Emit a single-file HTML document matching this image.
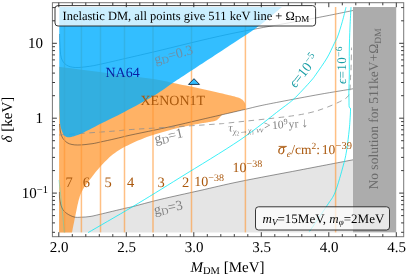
<!DOCTYPE html>
<html><head><meta charset="utf-8"><title>plot</title>
<style>html,body{margin:0;padding:0;background:#fff;}body{width:407px;height:277px;overflow:hidden;font-family:"Liberation Serif",serif;}</style></head>
<body>
<svg width="407" height="277" viewBox="0 0 407 277" style="display:block;will-change:transform;text-rendering:geometricPrecision" font-family="'Liberation Serif', serif">
<rect width="407" height="277" fill="#fff"/>
<path d="M59.1,199.0 L59.3,199.7 L59.6,200.7 L59.9,201.9 L60.3,203.2 L60.7,204.5 L61.1,205.8 L61.5,207.0 L62.0,208.0 L62.5,208.9 L63.0,209.6 L63.5,210.4 L64.1,211.0 L64.7,211.7 L65.3,212.3 L66.0,212.8 L66.7,213.4 L67.5,214.0 L68.4,214.5 L69.3,215.0 L70.3,215.5 L71.3,216.0 L72.3,216.4 L73.3,216.7 L74.2,217.0 L75.1,217.2 L75.9,217.3 L76.7,217.4 L77.5,217.4 L78.3,217.3 L79.2,217.3 L80.0,217.2 L81.0,217.2 L82.0,217.2 L83.1,217.1 L84.2,217.1 L85.3,217.0 L86.5,216.9 L87.6,216.8 L88.8,216.7 L90.0,216.5 L91.1,216.3 L92.1,216.1 L93.0,216.0 L94.0,215.7 L95.1,215.5 L96.4,215.2 L98.0,214.8 L100.0,214.3 L102.5,213.7 L105.6,213.0 L109.0,212.1 L112.6,211.3 L116.2,210.4 L119.6,209.6 L122.6,208.9 L125.0,208.3 L126.7,207.9 L127.7,207.7 L128.3,207.6 L128.8,207.5 L129.2,207.4 L129.9,207.3 L131.0,207.0 L132.8,206.6 L135.2,206.0 L137.9,205.2 L141.0,204.4 L144.4,203.5 L148.0,202.5 L151.8,201.5 L155.9,200.5 L160.0,199.5 L164.4,198.5 L169.1,197.4 L174.1,196.3 L179.2,195.1 L184.4,194.0 L189.7,192.8 L194.9,191.6 L200.0,190.5 L204.9,189.4 L209.5,188.3 L214.1,187.2 L218.8,186.2 L223.5,185.1 L228.6,183.9 L234.0,182.7 L240.0,181.5 L246.6,180.2 L253.8,178.8 L261.3,177.3 L269.2,175.8 L277.1,174.3 L285.0,172.8 L292.7,171.4 L300.0,170.0 L307.3,168.6 L315.0,167.1 L322.7,165.6 L330.2,164.2 L337.3,162.8 L343.6,161.6 L349.0,160.6 L353.0,159.8 L353.0,232.4 L59.1,232.4Z" fill="#e5e5e5"/>
<rect x="353" y="7" width="43.2" height="225.4" fill="#acacac"/>
<path d="M59.1,66.8 L62.2,67.2 L66.1,67.7 L70.8,68.3 L76.1,69.0 L81.8,69.7 L87.8,70.5 L93.9,71.3 L100.0,72.1 L106.5,72.9 L113.6,73.8 L121.2,74.8 L128.9,75.8 L136.5,76.8 L143.5,77.7 L149.8,78.6 L155.0,79.3 L159.0,79.9 L161.9,80.4 L164.1,80.9 L165.8,81.3 L167.2,81.6 L168.7,82.0 L170.6,82.5 L173.0,83.0 L176.0,83.6 L179.2,84.2 L182.6,84.9 L186.1,85.6 L189.6,86.3 L193.2,87.1 L196.7,87.8 L200.0,88.5 L203.3,89.2 L206.7,90.0 L210.1,90.7 L213.4,91.5 L216.7,92.3 L219.7,93.0 L222.5,93.6 L225.0,94.2 L227.2,94.7 L229.1,95.2 L230.8,95.6 L232.2,95.9 L233.6,96.2 L234.8,96.6 L235.9,96.9 L237.0,97.2 L238.0,97.5 L238.8,97.8 L239.5,98.1 L240.1,98.4 L240.6,98.6 L241.1,98.9 L241.5,99.2 L242.0,99.5 L242.5,99.8 L242.9,100.2 L243.2,100.6 L243.6,101.0 L243.9,101.4 L244.1,101.8 L244.4,102.1 L244.6,102.5 L244.8,102.9 L244.9,103.2 L245.1,103.6 L245.2,103.9 L245.2,104.3 L245.3,104.6 L245.4,104.8 L245.4,105.0 L245.4,109.3 L230.0,112.9 L222.0,114.8 L222.0,114.8 L221.8,115.1 L221.5,115.4 L221.1,115.9 L220.7,116.3 L220.3,116.8 L219.9,117.3 L219.4,117.8 L219.0,118.2 L218.6,118.6 L218.2,118.9 L217.9,119.3 L217.5,119.6 L217.1,119.9 L216.6,120.2 L216.0,120.5 L215.4,120.8 L214.7,121.0 L213.8,121.3 L212.9,121.5 L212.0,121.6 L211.0,121.8 L210.0,122.0 L209.0,122.1 L208.0,122.3 L207.1,122.5 L206.3,122.6 L205.6,122.7 L204.8,122.8 L203.9,122.9 L202.9,123.1 L201.6,123.3 L200.0,123.6 L198.1,123.9 L196.0,124.3 L193.7,124.8 L191.2,125.2 L188.5,125.7 L185.8,126.3 L182.9,126.9 L180.0,127.6 L176.9,128.3 L173.6,129.1 L170.2,130.0 L166.7,130.9 L163.1,131.9 L159.6,132.9 L156.2,133.9 L153.0,134.9 L149.9,136.0 L146.8,137.1 L143.8,138.2 L140.9,139.4 L138.0,140.6 L135.2,141.8 L132.6,143.0 L130.0,144.2 L127.6,145.4 L125.2,146.6 L123.0,147.8 L120.8,149.1 L118.8,150.3 L116.8,151.6 L114.9,152.9 L113.0,154.3 L111.2,155.7 L109.4,157.3 L107.8,158.9 L106.2,160.5 L104.6,162.1 L103.2,163.6 L101.8,165.1 L100.5,166.5 L99.3,167.8 L98.3,168.9 L97.4,170.0 L96.5,171.0 L95.7,172.0 L94.9,173.1 L94.0,174.2 L93.0,175.5 L91.9,176.9 L90.7,178.5 L89.5,180.1 L88.2,181.8 L87.0,183.4 L85.8,185.0 L84.7,186.6 L83.8,188.0 L83.0,189.3 L82.4,190.4 L81.8,191.5 L81.3,192.5 L80.9,193.5 L80.5,194.6 L80.0,195.7 L79.6,197.0 L79.2,198.4 L78.8,199.7 L78.4,201.2 L78.1,202.7 L77.7,204.3 L77.3,206.0 L76.9,207.9 L76.5,210.0 L76.0,212.5 L75.4,215.5 L74.7,218.7 L74.1,222.0 L73.4,225.2 L72.8,228.2 L72.4,230.6 L72.0,232.4 L59.1,232.4Z" fill="rgb(255,145,36)" fill-opacity="0.7"/>
<path d="M59.40,192.00 C59.45,193.17 59.27,196.33 59.70,199.00 C60.13,201.67 60.83,205.60 62.00,208.00 C63.17,210.40 64.67,211.90 66.70,213.40 C68.73,214.90 71.82,216.37 74.20,217.00 C76.58,217.63 78.37,217.28 81.00,217.20 C83.63,217.12 86.83,216.98 90.00,216.50 C93.17,216.02 94.17,215.67 100.00,214.30 C105.83,212.93 119.53,209.58 125.00,208.30 C130.47,207.02 126.97,208.07 132.80,206.60 C138.63,205.13 148.80,202.18 160.00,199.50 C171.20,196.82 186.67,193.50 200.00,190.50 C213.33,187.50 223.33,184.92 240.00,181.50 C256.67,178.08 281.17,173.62 300.00,170.00 C318.83,166.38 344.17,161.50 353.00,159.80" stroke="#2a2a2a" stroke-opacity="0.66" stroke-width="0.75" fill="none"/>
<path d="M59.60,124.00 C59.75,125.33 60.00,129.67 60.50,132.00 C61.00,134.33 61.52,136.23 62.60,138.00 C63.68,139.77 65.43,141.52 67.00,142.60 C68.57,143.68 70.22,144.10 72.00,144.50 C73.78,144.90 75.53,144.98 77.70,145.00 C79.87,145.02 82.45,144.83 85.00,144.60 C87.55,144.37 90.42,144.03 93.00,143.60 C95.58,143.17 96.83,142.80 100.50,142.00 C104.17,141.20 110.08,139.93 115.00,138.80 C119.92,137.67 123.33,136.67 130.00,135.20 C136.67,133.73 146.67,131.78 155.00,130.00 C163.33,128.22 172.50,126.20 180.00,124.50 C187.50,122.80 193.33,121.35 200.00,119.80 C206.67,118.25 215.00,116.35 220.00,115.20 C225.00,114.05 225.77,113.88 230.00,112.90 C234.23,111.92 240.40,110.48 245.40,109.30 C250.40,108.12 254.23,107.05 260.00,105.80 C265.77,104.55 270.00,103.72 280.00,101.80 C290.00,99.88 307.83,96.47 320.00,94.30 C332.17,92.13 347.50,89.72 353.00,88.80" stroke="#2a2a2a" stroke-opacity="0.66" stroke-width="0.75" fill="none"/>
<path d="M59.60,34.00 C59.65,35.67 59.62,40.02 59.90,44.00 C60.18,47.98 60.22,54.40 61.30,57.90 C62.38,61.40 64.08,63.40 66.40,65.00 C68.72,66.60 71.60,67.25 75.20,67.50 C78.80,67.75 83.78,67.05 88.00,66.50 C92.22,65.95 94.22,65.55 100.50,64.20 C106.78,62.85 116.62,60.50 125.70,58.40 C134.78,56.30 137.62,55.68 155.00,51.60 C172.38,47.52 203.23,39.50 230.00,33.90 C256.77,28.30 295.10,21.90 315.60,18.00 C336.10,14.10 346.77,11.75 353.00,10.50" stroke="#2a2a2a" stroke-opacity="0.66" stroke-width="0.75" fill="none"/>
<path d="M59.30,135.00 C68.58,134.33 103.22,131.90 115.00,131.00 C126.78,130.10 119.17,130.35 130.00,129.60 C140.83,128.85 165.00,127.47 180.00,126.50 C195.00,125.53 211.67,124.42 220.00,123.80 C228.33,123.18 219.00,123.98 230.00,122.80 C241.00,121.62 272.70,118.38 286.00,116.70 C299.30,115.02 303.20,114.18 309.80,112.70 C316.40,111.22 320.65,109.62 325.60,107.80 C330.55,105.98 335.85,103.62 339.50,101.80 C343.15,99.98 345.78,98.70 347.50,96.90 C349.22,95.10 349.33,93.82 349.80,91.00 C350.27,88.18 350.10,83.50 350.30,80.00 C350.50,76.50 350.80,75.40 351.00,70.00 C351.20,64.60 351.42,51.33 351.50,47.60" stroke="#8e8e8e" stroke-width="0.8" fill="none" stroke-dasharray="5.5,4.5"/>
<line x1="64.5" y1="7" x2="64.5" y2="232.4" stroke="rgb(255,150,50)" stroke-opacity="0.6" stroke-width="1.5"/>
<line x1="81.4" y1="7" x2="81.4" y2="232.4" stroke="rgb(255,150,50)" stroke-opacity="0.6" stroke-width="1.5"/>
<line x1="100.5" y1="7" x2="100.5" y2="232.4" stroke="rgb(255,150,50)" stroke-opacity="0.6" stroke-width="1.5"/>
<line x1="124.5" y1="7" x2="124.5" y2="232.4" stroke="rgb(255,150,50)" stroke-opacity="0.6" stroke-width="1.5"/>
<line x1="153.0" y1="7" x2="153.0" y2="232.4" stroke="rgb(255,150,50)" stroke-opacity="0.6" stroke-width="1.5"/>
<line x1="191.5" y1="7" x2="191.5" y2="232.4" stroke="rgb(255,150,50)" stroke-opacity="0.6" stroke-width="1.5"/>
<line x1="245.4" y1="7" x2="245.4" y2="232.4" stroke="rgb(255,150,50)" stroke-opacity="0.6" stroke-width="1.5"/>
<line x1="335.6" y1="7" x2="335.6" y2="232.4" stroke="rgb(255,150,50)" stroke-opacity="0.6" stroke-width="1.5"/>
<path d="M59.3,7.0 L282.0,7.0 L280.2,8.5 L277.9,10.5 L275.1,12.8 L272.0,15.5 L268.7,18.2 L265.3,21.0 L261.8,23.8 L258.5,26.3 L255.1,28.7 L251.5,31.2 L247.8,33.7 L244.0,36.2 L240.3,38.6 L236.6,41.0 L233.2,43.2 L230.0,45.3 L227.1,47.2 L224.4,49.0 L221.9,50.7 L219.5,52.3 L217.1,53.8 L214.8,55.3 L212.4,56.9 L210.0,58.5 L207.5,60.1 L204.9,61.8 L202.4,63.5 L199.8,65.1 L197.3,66.7 L194.8,68.4 L192.4,69.9 L190.0,71.5 L187.7,73.0 L185.5,74.5 L183.3,75.9 L181.2,77.3 L179.1,78.7 L177.0,80.1 L174.8,81.5 L172.6,83.0 L170.4,84.5 L168.3,86.0 L166.3,87.4 L164.2,88.9 L162.0,90.5 L159.6,92.1 L157.1,93.7 L154.2,95.5 L151.0,97.4 L147.4,99.4 L143.6,101.6 L139.6,103.8 L135.6,106.0 L131.7,108.1 L127.8,110.1 L124.3,112.0 L120.9,113.7 L117.6,115.4 L114.4,117.0 L111.2,118.5 L108.2,120.0 L105.3,121.4 L102.6,122.7 L100.0,124.0 L97.6,125.2 L95.4,126.4 L93.4,127.4 L91.4,128.4 L89.7,129.4 L88.0,130.3 L86.4,131.1 L85.0,131.8 L83.7,132.4 L82.6,133.0 L81.6,133.4 L80.8,133.8 L80.0,134.1 L79.2,134.4 L78.5,134.7 L77.7,135.0 L76.9,135.3 L76.1,135.6 L75.4,135.8 L74.7,136.1 L74.0,136.3 L73.3,136.5 L72.6,136.6 L72.0,136.8 L71.4,136.9 L70.8,137.1 L70.3,137.2 L69.8,137.3 L69.3,137.3 L68.8,137.3 L68.4,137.3 L67.9,137.3 L67.4,137.2 L67.0,137.1 L66.5,137.0 L66.1,136.8 L65.6,136.6 L65.2,136.3 L64.8,136.1 L64.5,135.8 L64.2,135.5 L63.9,135.2 L63.7,135.0 L63.5,134.6 L63.3,134.3 L63.1,133.8 L62.8,133.3 L62.6,132.7 L62.3,132.0 L62.0,131.3 L61.7,130.5 L61.4,129.6 L61.1,128.6 L60.8,127.5 L60.5,126.3 L60.3,125.0 L60.1,123.5 L60.0,121.9 L59.9,120.1 L59.8,118.3 L59.7,116.3 L59.6,114.3 L59.6,112.2 L59.5,110.0 L59.4,107.6 L59.4,104.9 L59.4,102.0 L59.4,99.1 L59.3,96.3 L59.3,93.7 L59.3,91.6 L59.3,90.0Z" fill="rgb(0,174,255)" fill-opacity="0.8"/>
<path d="M88.10,232.60 C95.55,228.27 117.48,215.77 132.80,206.60 C148.12,197.43 162.13,188.70 180.00,177.60 C197.87,166.50 223.33,151.30 240.00,140.00 C256.67,128.70 271.18,116.50 280.00,109.80 C288.82,103.10 289.13,103.10 292.90,99.80 C296.67,96.50 299.47,93.30 302.60,90.00 C305.73,86.70 309.47,82.62 311.70,80.00 C313.93,77.38 313.45,77.97 316.00,74.30 C318.55,70.63 323.97,63.12 327.00,58.00 C330.03,52.88 332.40,47.25 334.20,43.60 C336.00,39.95 336.45,39.75 337.80,36.10 C339.15,32.45 340.93,26.52 342.30,21.70 C343.67,16.88 345.38,9.62 346.00,7.20" stroke="rgb(0,235,245)" stroke-opacity="0.9" stroke-width="0.85" fill="none"/>
<path d="M309.50,231.40 C312.42,227.10 322.72,212.17 327.00,205.60 C331.28,199.03 332.47,198.77 335.20,192.00 C337.93,185.23 341.48,172.00 343.40,165.00 C345.32,158.00 345.73,155.83 346.70,150.00 C347.67,144.17 348.65,135.00 349.20,130.00 C349.75,125.00 349.78,123.50 350.00,120.00 C350.22,116.50 350.63,111.17 350.50,109.00 C350.37,106.83 349.45,108.50 349.20,107.00 C348.95,105.50 349.05,102.83 349.00,100.00 C348.95,97.17 348.85,94.17 348.90,90.00 C348.95,85.83 349.23,81.67 349.30,75.00 C349.37,68.33 349.18,58.00 349.30,50.00 C349.42,42.00 349.72,34.13 350.00,27.00 C350.28,19.87 350.83,10.50 351.00,7.20" stroke="rgb(0,235,245)" stroke-opacity="0.9" stroke-width="0.85" fill="none"/>
<path d="M58.90,180.00 C59.25,183.00 60.08,189.27 61.00,198.00 C61.92,206.73 63.83,226.67 64.40,232.40" stroke="rgb(0,235,245)" stroke-opacity="0.45" stroke-width="0.8" fill="none"/>
<path d="M188.5,84.4 L194,78.7 L199.5,84.4Z" fill="#33beff" stroke="#1a3a55" stroke-width="1"/>
<text x="105.5" y="76.8" font-size="14" fill="#0a1fa0">NA64</text>
<text x="140.5" y="104.8" font-size="14" fill="#aa580d">XENON1T</text>
<text x="69.2" y="186.9" font-size="14.5" fill="#aa580d" text-anchor="middle">7</text>
<text x="86.3" y="186.9" font-size="14.5" fill="#aa580d" text-anchor="middle">6</text>
<text x="108.0" y="186.9" font-size="14.5" fill="#aa580d" text-anchor="middle">5</text>
<text x="130.5" y="186.9" font-size="14.5" fill="#aa580d" text-anchor="middle">4</text>
<text x="161.0" y="186.9" font-size="14.5" fill="#aa580d" text-anchor="middle">3</text>
<text x="185.5" y="186.9" font-size="14.5" fill="#aa580d" text-anchor="middle">2</text>
<text x="194.3" y="185.6" font-size="14" fill="#aa580d">10<tspan font-size="10" dy="-5">−38</tspan></text>
<text x="232.5" y="172" font-size="14" fill="#aa580d">10<tspan font-size="10" dy="-5">−38</tspan></text>
<text y="154.4" font-size="13.5" fill="#aa580d"><tspan x="277.8" font-size="15" font-style="italic">σ</tspan><tspan x="286.8" font-size="9.5" dy="2.5" font-style="italic">e</tspan><tspan x="291.3" dy="-2.5">/cm</tspan><tspan font-size="9.5" dy="-5">2</tspan><tspan dy="5">: </tspan><tspan x="321.8">10</tspan><tspan font-size="10.5" dy="-5" dx="0.3">−39</tspan></text>
<path d="M278.6,146.4 H286.8" stroke="#aa580d" stroke-width="0.9"/>
<text transform="translate(155.5,143.6) rotate(-13)" font-size="14" fill="#808080">g<tspan font-size="10" dy="2">D</tspan><tspan dy="-2">=1</tspan></text>
<text transform="translate(155.5,64) rotate(-15)" font-size="14" fill="#6d8fa6">g<tspan font-size="10" dy="2">D</tspan><tspan dy="-2">=0.3</tspan></text>
<text transform="translate(154.8,214.6) rotate(-11)" font-size="14" fill="#808080">g<tspan font-size="10" dy="2">D</tspan><tspan dy="-2">=3</tspan></text>
<text transform="translate(228.6,131.4) rotate(-3.3)" font-size="11.6" fill="#808080"><tspan font-style="italic">τ</tspan><tspan font-size="8" dy="3" font-style="italic">χ</tspan><tspan font-size="6" dy="1.5">2</tspan><tspan font-size="8.5" dy="-1.5">→</tspan><tspan font-size="8" font-style="italic">χ</tspan><tspan font-size="6" dy="1.5">1</tspan><tspan font-size="8" dy="-1.5" font-style="italic"> νν</tspan><tspan dy="-3" dx="0.8">&gt;</tspan><tspan dx="1.6">10</tspan><tspan font-size="8" dy="-4">9</tspan><tspan dy="4" dx="1">yr</tspan><tspan dx="3" font-size="13.5">↓</tspan></text>
<text transform="translate(295.6,88.6) rotate(-52)" font-size="14" fill="#1a9ea6"><tspan font-style="italic">ϵ</tspan>=10<tspan font-size="10" dy="-5">−5</tspan></text>
<text transform="translate(345.6,84) rotate(-90)" font-size="13" letter-spacing="0.35" fill="#1a9ea6"><tspan font-style="italic">ϵ</tspan>=10<tspan font-size="9.5" dy="-4">−6</tspan></text>
<text transform="translate(377.8,189.5) rotate(-90)" font-size="13.5" fill="#6a6a6a">No solution for 511keV+Ω<tspan font-size="9.5" dy="3">DM</tspan></text>
<rect x="55.0" y="5.6" width="260.6" height="20.4" rx="3" ry="3" fill="#fff" fill-opacity="0.75" stroke="#222" stroke-width="0.9"/>
<text x="62.5" y="19.9" font-size="12.5" fill="#000">Inelastic DM, all points give 511 keV line + Ω<tspan font-size="9" dy="2.5">DM</tspan></text>
<rect x="255.5" y="206.8" width="134" height="23.2" rx="3" ry="3" fill="#fff" fill-opacity="0.72" stroke="#222" stroke-width="0.9"/>
<text x="262.6" y="222.9" font-size="13" fill="#000"><tspan font-style="italic">m</tspan><tspan font-size="9" dy="2.5" font-style="italic">V</tspan><tspan dy="-2.5">=15MeV, </tspan><tspan font-style="italic">m</tspan><tspan font-size="9" dy="2.5" font-style="italic">φ</tspan><tspan dy="-2.5">=2MeV</tspan></text>
<rect x="52.4" y="2.7" width="351.3" height="234.0" fill="none" stroke="#777" stroke-width="1"/>
<path d="M58.8,236.7 v-4.5 M58.8,2.7 v4.5 M72.3,236.7 v-2.6 M72.3,2.7 v2.6 M85.8,236.7 v-2.6 M85.8,2.7 v2.6 M99.3,236.7 v-2.6 M99.3,2.7 v2.6 M112.8,236.7 v-2.6 M112.8,2.7 v2.6 M126.3,236.7 v-4.5 M126.3,2.7 v4.5 M139.8,236.7 v-2.6 M139.8,2.7 v2.6 M153.3,236.7 v-2.6 M153.3,2.7 v2.6 M166.8,236.7 v-2.6 M166.8,2.7 v2.6 M180.3,236.7 v-2.6 M180.3,2.7 v2.6 M193.8,236.7 v-4.5 M193.8,2.7 v4.5 M207.3,236.7 v-2.6 M207.3,2.7 v2.6 M220.8,236.7 v-2.6 M220.8,2.7 v2.6 M234.3,236.7 v-2.6 M234.3,2.7 v2.6 M247.8,236.7 v-2.6 M247.8,2.7 v2.6 M261.3,236.7 v-4.5 M261.3,2.7 v4.5 M274.8,236.7 v-2.6 M274.8,2.7 v2.6 M288.3,236.7 v-2.6 M288.3,2.7 v2.6 M301.8,236.7 v-2.6 M301.8,2.7 v2.6 M315.3,236.7 v-2.6 M315.3,2.7 v2.6 M328.8,236.7 v-4.5 M328.8,2.7 v4.5 M342.3,236.7 v-2.6 M342.3,2.7 v2.6 M355.8,236.7 v-2.6 M355.8,2.7 v2.6 M369.3,236.7 v-2.6 M369.3,2.7 v2.6 M382.8,236.7 v-2.6 M382.8,2.7 v2.6 M396.3,236.7 v-4.5 M396.3,2.7 v4.5 M52.4,232.3 h2.6 M403.7,232.3 h-2.6 M52.4,222.9 h2.6 M403.7,222.9 h-2.6 M52.4,215.6 h2.6 M403.7,215.6 h-2.6 M52.4,209.7 h2.6 M403.7,209.7 h-2.6 M52.4,204.7 h2.6 M403.7,204.7 h-2.6 M52.4,200.4 h2.6 M403.7,200.4 h-2.6 M52.4,196.5 h2.6 M403.7,196.5 h-2.6 M52.4,193.1 h4.5 M403.7,193.1 h-4.5 M52.4,170.6 h2.6 M403.7,170.6 h-2.6 M52.4,157.4 h2.6 M403.7,157.4 h-2.6 M52.4,148.0 h2.6 M403.7,148.0 h-2.6 M52.4,140.7 h2.6 M403.7,140.7 h-2.6 M52.4,134.8 h2.6 M403.7,134.8 h-2.6 M52.4,129.8 h2.6 M403.7,129.8 h-2.6 M52.4,125.5 h2.6 M403.7,125.5 h-2.6 M52.4,121.6 h2.6 M403.7,121.6 h-2.6 M52.4,118.2 h4.5 M403.7,118.2 h-4.5 M52.4,95.7 h2.6 M403.7,95.7 h-2.6 M52.4,82.5 h2.6 M403.7,82.5 h-2.6 M52.4,73.1 h2.6 M403.7,73.1 h-2.6 M52.4,65.8 h2.6 M403.7,65.8 h-2.6 M52.4,59.9 h2.6 M403.7,59.9 h-2.6 M52.4,54.9 h2.6 M403.7,54.9 h-2.6 M52.4,50.6 h2.6 M403.7,50.6 h-2.6 M52.4,46.7 h2.6 M403.7,46.7 h-2.6 M52.4,43.3 h4.5 M403.7,43.3 h-4.5 M52.4,20.8 h2.6 M403.7,20.8 h-2.6 M52.4,7.6 h2.6 M403.7,7.6 h-2.6" stroke="#222" stroke-width="0.9" fill="none"/>
<text x="59.1" y="252" font-size="15" text-anchor="middle">2.0</text>
<text x="126.6" y="252" font-size="15" text-anchor="middle">2.5</text>
<text x="194.1" y="252" font-size="15" text-anchor="middle">3.0</text>
<text x="261.6" y="252" font-size="15" text-anchor="middle">3.5</text>
<text x="329.1" y="252" font-size="15" text-anchor="middle">4.0</text>
<text x="396.6" y="252" font-size="15" text-anchor="middle">4.5</text>
<text x="43" y="48" font-size="15" text-anchor="end">10</text>
<text x="43" y="123" font-size="15" text-anchor="end">1</text>
<text x="48" y="198" font-size="15" text-anchor="end">10<tspan font-size="10.5" dy="-5">−1</tspan></text>
<text x="190.5" y="272.4" font-size="15"><tspan font-style="italic">M</tspan><tspan font-size="10.5" dy="1.5">DM</tspan><tspan dy="-1.5"> [MeV]</tspan></text>
<text transform="translate(11.6,142.5) rotate(-90)" font-size="15"><tspan font-style="italic">δ</tspan> [keV]</text>
</svg>
</body></html>
